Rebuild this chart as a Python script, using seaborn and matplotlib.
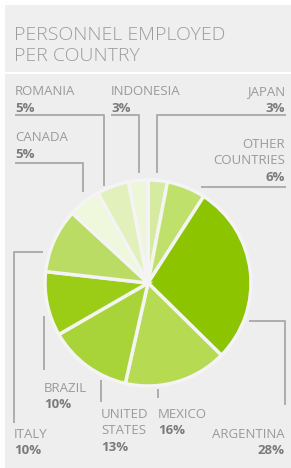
import matplotlib
matplotlib.use("Agg")
import matplotlib.pyplot as plt
import matplotlib.patches as mpatches
import seaborn as sns

# data, clockwise from the top
countries = ["JAPAN", "OTHER\nCOUNTRIES", "ARGENTINA", "MEXICO", "UNITED\nSTATES",
             "BRAZIL", "ITALY", "CANADA", "ROMANIA", "INDONESIA"]
shares = [3, 6, 28, 16, 13, 10, 10, 5, 5, 3]
slice_colors = ["#d4eba0", "#c0e06c", "#8cc400", "#b6da52", "#a8d43a",
                "#9bcd16", "#badc64", "#eff7dc", "#e2f0bc", "#eef6d8"]

W, H = 291, 468

sns.set_theme(style="white")
plt.rcParams["font.family"] = ["Open Sans", "DejaVu Sans"]

fig = plt.figure(figsize=(W / 100, H / 100), dpi=100)
fig.patch.set_facecolor("white")
ax = fig.add_axes([0, 0, 1, 1])

# panel backgrounds (image coords, y down)
def rect(x0, y0, x1, y1, color):
    ax.add_patch(mpatches.Rectangle((x0, H - y1), x1 - x0, y1 - y0,
                                    facecolor=color, edgecolor="none", zorder=0))

rect(5, 5, W, 72, "#efefef")
rect(5, 74, W, H, "#eeeeee")

ax.text(14, H - 40, "PERSONNEL EMPLOYED", fontsize=14, color="#9c9c9c",
        fontweight="light", va="baseline", ha="left")
ax.text(14, H - 61, "PER COUNTRY", fontsize=14, color="#9c9c9c",
        fontweight="light", va="baseline", ha="left")

# pie
ax.pie(shares, colors=slice_colors, startangle=90, counterclock=False,
       center=(148, H - 283), radius=103, frame=True,
       wedgeprops=dict(edgecolor="#f4f4f4", linewidth=2.5))
ax.set_xlim(0, W)
ax.set_ylim(0, H)
ax.set_aspect("auto")
ax.axis("off")

# leader lines (image coords)
leaders = [
    [(286, 115), (157, 115), (157, 173)],   # japan
    [(286, 187), (201, 187)],               # other
    [(249, 321), (285, 321), (285, 405)],   # argentina
    [(158, 389), (158, 398)],               # mexico
    [(101, 380), (101, 402)],               # united states
    [(44, 316), (44, 370)],                 # brazil
    [(43, 252), (14, 252), (14, 423)],      # italy
    [(15, 163), (83, 163), (83, 192)],      # canada
    [(15, 115), (104, 115), (104, 186)],    # romania
    [(111, 115), (139, 115), (139, 173)],   # indonesia
]
for pts in leaders:
    ax.plot([p[0] for p in pts], [H - p[1] for p in pts], color="#a8a8a8",
            lw=1.3, solid_capstyle="butt", zorder=1)

# labels: x, alignment, first baseline
label_pos = [
    (285, "right", 95),
    (285, "right", 148),
    (285, "right", 438),
    (158, "left", 418),
    (101, "left", 418),
    (44, "left", 392),
    (14, "left", 438),
    (15, "left", 141),
    (15, "left", 95),
    (111, "left", 95),
]
pitch = 16.5
for name, share, (x, ha, y0) in zip(countries, shares, label_pos):
    lines = name.split("\n")
    for i, line in enumerate(lines):
        ax.text(x, H - (y0 + i * pitch), line, fontsize=9.5, color="#9a9a9a",
                ha=ha, va="baseline")
    ax.text(x, H - (y0 + len(lines) * pitch), f"{share}%", fontsize=9.5,
            color="#7a7a7a", fontweight="bold", ha=ha, va="baseline")

fig.savefig("out.png", dpi=100, facecolor="white")
